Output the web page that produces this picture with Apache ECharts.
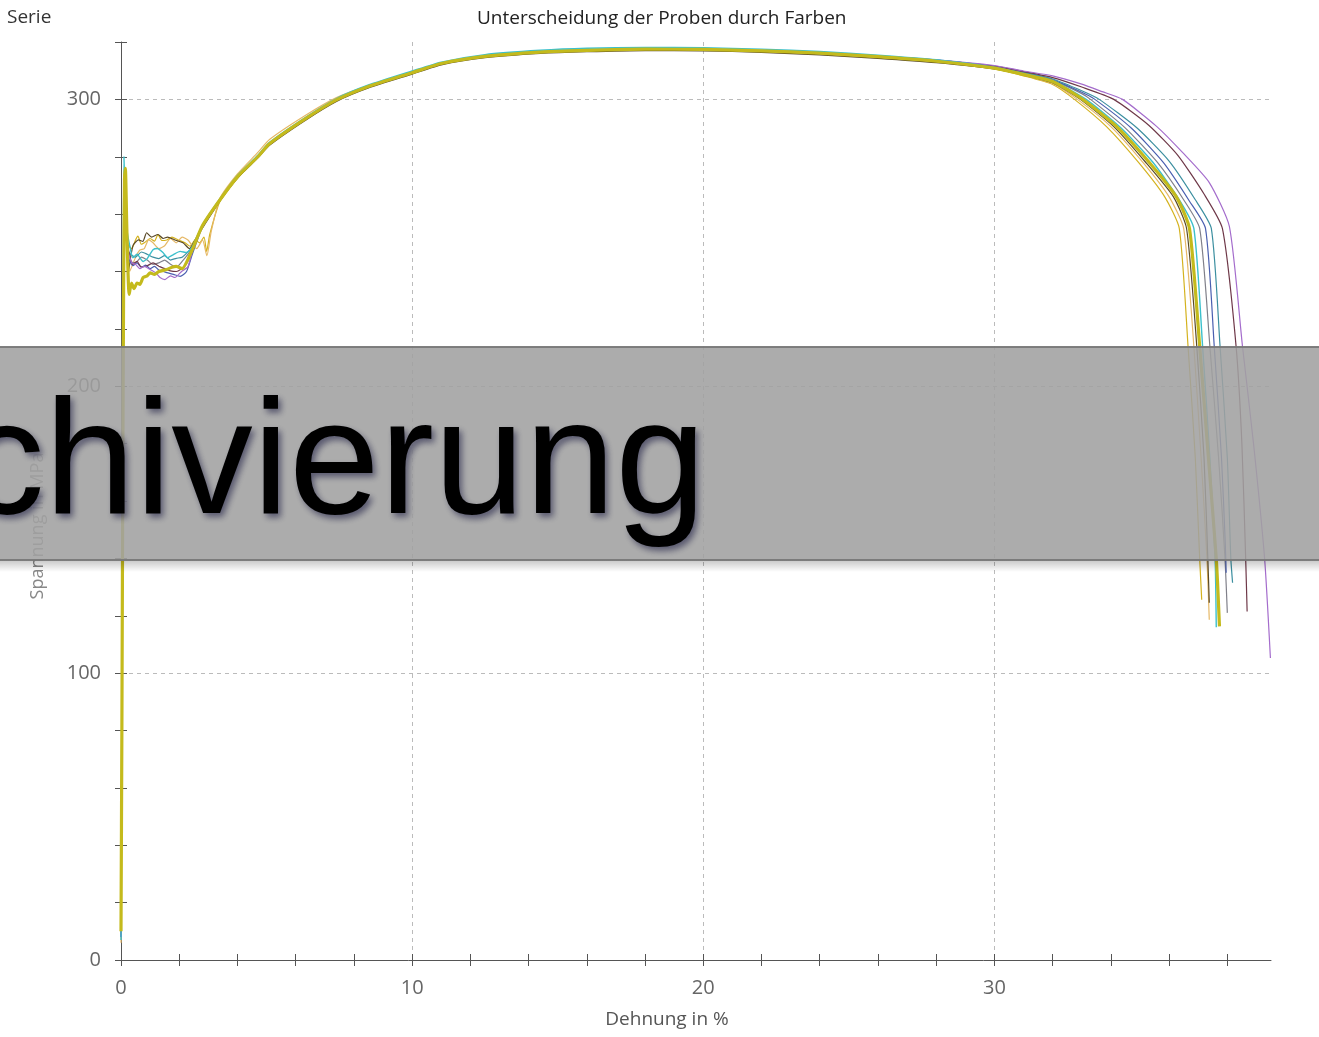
<!DOCTYPE html>
<html>
<head>
<meta charset="utf-8">
<script src="https://cdn.jsdelivr.net/npm/echarts@6/dist/echarts.min.js"></script>
<style>
  html, body { margin: 0; padding: 0; background: #fff; }
  #chart { width: 1319px; height: 1037px; }
</style>
</head>
<body>
<div id="chart"></div>
<script>
// Spannung-Dehnung, one array per sample: [Dehnung %, Spannung MPa]
const probeGold = [[0,8],[0.04,120],[0.08,230],[0.12,268],[0.2,250],[0.37,248],[0.5,251],[0.58,252.3],[0.7,249.5],[0.8,250],[1.0,251.5],[1.15,250.6],[1.27,252.9],[1.4,250.8],[1.57,251],[1.75,252],[1.96,251],[2.2,250],[2.37,248.8],[2.55,251],[2.7,250],[2.85,252],[2.94,247],[3.05,253],[3.4,264.5],[4.0,272.5],[4.7,279.8],[5.1,284.3],[6.3,292.8],[7.4,299.6],[8.5,304.3],[10,309.1],[11,312.3],[12.5,314.8],[14.4,316.4],[16,317],[18,317.4],[20,317.3],[22,316.8],[24,315.9],[26,314.7],[28,313.1],[30,310.6],[31,308.2],[32,305.2],[32.75,300],[33.85,290.5],[34.95,278],[35.85,266],[36.35,255],[36.65,214],[36.9,175],[37.05,140],[37.12,125.6]];
const probeLight = [[0,6],[0.04,115],[0.08,225],[0.13,262],[0.3,240],[0.5,245],[0.65,247.5],[0.8,248],[0.95,251],[1.1,250],[1.3,248],[1.5,249],[1.7,251.5],[1.9,250],[2.1,252],[2.3,251],[2.45,249],[2.6,248],[2.8,251],[2.95,245.5],[3.1,254],[3.4,265.5],[4.0,274],[4.7,281.5],[5.1,286],[6.3,294.2],[7.4,300.6],[8.5,304.8],[10,309.4],[11,312.6],[12.5,315],[14.4,316.6],[16,317.2],[18,317.5],[20,317.4],[22,316.9],[24,316],[26,314.8],[28,313.2],[30,310.7],[31,308.4],[32,305.5],[32.85,300],[34.0,290.5],[35.1,278],[36.0,266],[36.5,255],[36.85,214],[37.1,175],[37.3,140],[37.38,118.6]];
const probeCyan = [[0,7],[0.04,125],[0.08,240],[0.1,280],[0.14,268],[0.2,255],[0.3,249],[0.41,244.8],[0.55,246],[0.76,243.5],[0.9,244.5],[1.1,247.6],[1.25,248],[1.44,246.6],[1.6,244.8],[1.79,245.8],[2.03,247],[2.25,246.6],[2.45,248.5],[2.8,256.3],[3.4,265.4],[4.0,273.5],[4.7,280.5],[5.1,285],[6.3,293.5],[7.4,300.3],[8.5,305],[10,309.9],[11,313],[12.5,315.6],[14.4,317.1],[16,317.8],[18,318.1],[20,318],[22,317.5],[24,316.7],[26,315.4],[28,313.8],[30,311.2],[31,309],[32,306.5],[33.15,300],[34.35,290],[35.45,278],[36.35,265],[36.85,255],[37.15,214],[37.4,175],[37.58,140],[37.62,116]];
const probeDark = [[0,8],[0.04,120],[0.08,228],[0.13,270],[0.25,240],[0.41,249],[0.6,251],[0.75,250.5],[0.88,253.5],[1.05,252],[1.27,252.9],[1.45,251.5],[1.6,252],[1.85,251],[2.13,250],[2.35,248],[2.6,252],[2.85,256],[3.4,264.6],[4.0,272.6],[4.7,279.6],[5.1,284],[6.3,292.5],[7.4,299.3],[8.5,304],[10,308.8],[11,312],[12.5,314.5],[14.4,316],[16,316.6],[18,317],[20,316.9],[22,316.4],[24,315.5],[26,314.3],[28,312.8],[30,310.6],[31,308.5],[32,305.8],[32.95,300],[34.1,290.5],[35.2,278],[36.15,266],[36.6,255],[36.95,214],[37.2,175],[37.33,140],[37.38,124.5]];
const probeGray = [[0,8],[0.04,118],[0.08,225],[0.12,265],[0.25,244],[0.5,243],[0.7,245],[0.9,244],[1.1,242.5],[1.3,243],[1.5,244],[1.7,242.5],[1.9,241.5],[2.1,243.5],[2.4,247.5],[2.8,256],[3.4,265],[4.0,273],[4.7,280],[5.1,284.5],[6.3,293],[7.4,299.8],[8.5,304.5],[10,309.3],[11,312.5],[12.5,315],[14.4,316.5],[16,317.1],[18,317.5],[20,317.4],[22,316.9],[24,316.1],[26,314.9],[28,313.5],[30,311.2],[31,309.1],[32,306.6],[33,302],[33.3,300],[34.5,290],[35.6,278],[36.5,265],[37.05,255],[37.4,214],[37.7,175],[37.92,140],[38.0,121]];
const probeBlue = [[0,8],[0.04,118],[0.08,226],[0.12,266],[0.22,246],[0.41,242],[0.55,243],[0.7,241.5],[0.85,242.2],[1.0,241],[1.15,241.8],[1.3,240.5],[1.57,239.6],[1.8,239],[2.03,238.3],[2.25,240],[2.45,246],[2.8,255.5],[3.4,265],[4.0,273],[4.7,280],[5.1,284.5],[6.3,293],[7.4,299.8],[8.5,304.5],[10,309.3],[11,312.5],[12.5,315],[14.4,316.5],[16,317.1],[18,317.5],[20,317.4],[22,316.9],[24,316.1],[26,315],[28,313.6],[30,311.4],[31,309.3],[32,306.8],[33,302.5],[33.45,300],[34.7,290],[35.8,278],[36.7,264.5],[37.25,255],[37.55,214],[37.8,175],[37.93,145],[37.96,135]];
const probeTeal = [[0,8],[0.04,120],[0.08,228],[0.12,270],[0.25,247],[0.5,245],[0.7,246.8],[0.9,246],[1.1,245],[1.3,244.5],[1.5,245.5],[1.7,244],[1.9,244.6],[2.1,245],[2.4,248],[2.8,256],[3.4,265.1],[4.0,273.1],[4.7,280.1],[5.1,284.6],[6.3,293.1],[7.4,299.9],[8.5,304.6],[10,309.5],[11,312.7],[12.5,315.2],[14.4,316.7],[16,317.4],[18,317.7],[20,317.6],[22,317.1],[24,316.3],[26,315.1],[28,313.7],[30,311.5],[31,309.5],[32,307.1],[33,303],[33.6,300],[34.9,290],[36.0,278.5],[36.9,265],[37.45,255],[37.75,214],[38.0,175],[38.12,140],[38.18,131.5]];
const probeMaroon = [[0,8],[0.04,120],[0.08,228],[0.12,270],[0.22,250],[0.4,242.5],[0.55,243.5],[0.7,241.5],[0.9,242],[1.1,243],[1.3,241.8],[1.5,241],[1.7,240.2],[1.9,240],[2.2,242],[2.45,247],[2.8,256],[3.4,265],[4.0,273],[4.7,280],[5.1,284.4],[6.3,292.9],[7.4,299.7],[8.5,304.4],[10,309.2],[11,312.4],[12.5,314.9],[14.4,316.4],[16,317],[18,317.4],[20,317.3],[22,316.8],[24,316.1],[26,315],[28,313.7],[30,311.6],[31,309.7],[32,307.6],[33,304.3],[34.1,300],[35.3,291],[36.3,280.5],[37.2,267],[37.83,255],[38.3,214],[38.5,180],[38.63,140],[38.68,121.5]];
const probePurple = [[0,8],[0.04,118],[0.08,226],[0.12,268],[0.22,248],[0.37,243],[0.5,242.5],[0.65,241],[0.8,241.8],[1.0,240.7],[1.2,239.5],[1.34,237.9],[1.51,237.2],[1.7,238.5],[1.85,237.9],[2.08,240],[2.3,241.7],[2.5,249],[2.85,256.5],[3.4,265],[4.0,273],[4.7,280],[5.1,284.5],[6.3,293],[7.4,299.8],[8.5,304.5],[10,309.3],[11,312.5],[12.5,315],[14.4,316.5],[16,317.1],[18,317.5],[20,317.4],[22,316.9],[24,316.2],[26,315.1],[28,313.8],[30,311.8],[31,309.9],[32,308.2],[33,305.3],[33.7,302.7],[34.4,300],[35.57,290.6],[36.46,281.5],[37.38,271],[38.07,255.7],[38.52,214],[38.9,180],[39.28,140],[39.48,105.3]];
const probeThick = [[0,10],[0.03,80],[0.06,165],[0.09,235],[0.12,272],[0.15,276],[0.2,255],[0.28,232],[0.36,236],[0.45,234],[0.55,236],[0.65,235.5],[0.76,237.9],[0.9,238.5],[1.0,239.5],[1.15,239],[1.3,240],[1.57,240.7],[1.75,241.5],[1.9,241.8],[2.1,241],[2.4,246.5],[2.8,256],[3.4,265],[4.0,273],[4.7,280],[5.1,284.5],[6.3,293],[7.4,299.8],[8.5,304.5],[10,309.3],[11,312.5],[12.5,315],[14.4,316.5],[16,317.1],[18,317.5],[20,317.4],[22,316.9],[24,316.1],[26,314.9],[28,313.3],[30,310.9],[31,308.7],[32,306.2],[33.03,300],[34.19,290.6],[35.32,278],[36.25,266],[36.7,255],[37.05,214],[37.35,175],[37.62,140],[37.73,116.3]];

const xTicks = [0, 2, 4, 6, 8, 10, 12, 14, 16, 18, 20, 22, 24, 26, 28, 30, 32, 34, 36, 38];
const xLabels = [0, 10, 20, 30];
const yTicks = [0, 20, 40, 60, 80, 100, 120, 140, 160, 180, 200, 220, 240, 260, 280, 300, 320];
const yLabels = [0, 100, 200, 300];

const probes = [
    { name: 'Probe 1', data: probeGold, color: '#d4b21e', width: 1.2 },
    { name: 'Probe 2', data: probeLight, color: '#e6b866', width: 1.2 },
    { name: 'Probe 3', data: probeDark, color: '#5a4a28', width: 1.2 },
    { name: 'Probe 4', data: probeGray, color: '#80808a', width: 1.2 },
    { name: 'Probe 5', data: probeBlue, color: '#4a5fb0', width: 1.2 },
    { name: 'Probe 6', data: probeTeal, color: '#3c8fa0', width: 1.2 },
    { name: 'Probe 7', data: probeMaroon, color: '#6e3848', width: 1.2 },
    { name: 'Probe 8', data: probePurple, color: '#a46ccc', width: 1.2 },
    { name: 'Probe 9', data: probeCyan, color: '#3cc0cc', width: 1.4 },
    { name: 'Probe 10', data: probeThick, color: '#c4ba1c', width: 3.2 }
];

const font = '"Open Sans", "Noto Sans", sans-serif';
const axisColor = '#555';

const chart = echarts.init(document.getElementById('chart'));
const option = {
    animation: false,
    backgroundColor: '#fff',
    title: [
        { text: 'Unterscheidung der Proben durch Farben', left: 472, top: 4,
          textStyle: { fontFamily: font, fontSize: 19, fontWeight: 'normal', color: '#222' } },
        { text: 'Serie', left: 2, top: 3,
          textStyle: { fontFamily: font, fontSize: 19, fontWeight: 'normal', color: '#333' } }
    ],
    grid: { left: 121, right: 48, top: 42, bottom: 77 },
    xAxis: [
        {
            // line, labels, name
            type: 'value', min: 0, max: 39.5, position: 'bottom',
            name: 'Dehnung in %', nameLocation: 'middle', nameGap: 50,
            nameTextStyle: { fontFamily: font, fontSize: 19, color: '#555', padding: [0, 58, 0, 0] },
            axisLine: { lineStyle: { color: axisColor, width: 1 } },
            axisTick: { show: false },
            axisLabel: { customValues: xLabels, margin: 18, fontFamily: font, fontSize: 20, color: '#666' },
            splitLine: { show: false }
        },
        {
            // crossing ticks
            type: 'value', min: 0, max: 39.5, position: 'bottom', offset: -6,
            axisLine: { show: false },
            axisTick: { show: true, customValues: xTicks, length: 12, lineStyle: { color: axisColor } },
            axisLabel: { show: false },
            splitLine: { show: false }
        },
        {
            // grid lines
            type: 'value', min: 0, max: 39.5, interval: 10, position: 'bottom',
            axisLine: { show: false }, axisTick: { show: false }, axisLabel: { show: false },
            splitLine: { show: true, showMinLine: false, showMaxLine: false,
                         lineStyle: { color: '#bbb', type: [4, 4], width: 1 } }
        }
    ],
    yAxis: [
        {
            type: 'value', min: 0, max: 320, position: 'left',
            name: 'Spannung in MPa', nameLocation: 'middle', nameGap: 74, nameRotate: 90,
            nameTextStyle: { fontFamily: font, fontSize: 18, color: '#888', padding: [0, 50, 0, 0] },
            axisLine: { show: true, lineStyle: { color: axisColor, width: 1 } },
            axisTick: { show: false },
            axisLabel: { customValues: yLabels, margin: 20, fontFamily: font, fontSize: 20, color: '#666' },
            splitLine: { show: false }
        },
        {
            type: 'value', min: 0, max: 320, position: 'left', offset: -6,
            axisLine: { show: false },
            axisTick: { show: true, customValues: yTicks, length: 12, lineStyle: { color: axisColor } },
            axisLabel: { show: false },
            splitLine: { show: false }
        },
        {
            type: 'value', min: 0, max: 320, interval: 100, position: 'left',
            axisLine: { show: false }, axisTick: { show: false }, axisLabel: { show: false },
            splitLine: { show: true, showMinLine: false, showMaxLine: false,
                         lineStyle: { color: '#bbb', type: [4, 4], width: 1 } }
        }
    ],
    series: probes.map(p => ({
        name: p.name,
        type: 'line',
        xAxisIndex: 0,
        yAxisIndex: 0,
        data: p.data,
        showSymbol: false,
        smooth: 0.2,
        lineStyle: { color: p.color, width: p.width },
        itemStyle: { color: p.color }
    })),
    graphic: [
        {
            type: 'rect', z: 100,
            shape: { x: -5, y: 560, width: 1330, height: 12 },
            style: {
                fill: new echarts.graphic.LinearGradient(0, 0, 0, 1, [
                    { offset: 0, color: 'rgba(0,0,0,0.22)' },
                    { offset: 1, color: 'rgba(0,0,0,0)' }
                ])
            }
        },
        {
            type: 'rect', z: 101,
            shape: { x: -5, y: 347, width: 1330, height: 213 },
            style: { fill: 'rgba(160,160,160,0.88)', stroke: 'rgba(120,120,120,0.95)', lineWidth: 2 }
        },
        {
            type: 'text', z: 102, x: -37, y: 468,
            style: {
                text: 'chivierung',
                font: '163px "Liberation Sans", Arial, sans-serif',
                fill: '#000',
                verticalAlign: 'middle',
                textShadowColor: 'rgba(20,20,60,0.55)', textShadowBlur: 6,
                textShadowOffsetX: 3, textShadowOffsetY: 4
            }
        }
    ]
};
chart.setOption(option);
</script>
</body>
</html>
